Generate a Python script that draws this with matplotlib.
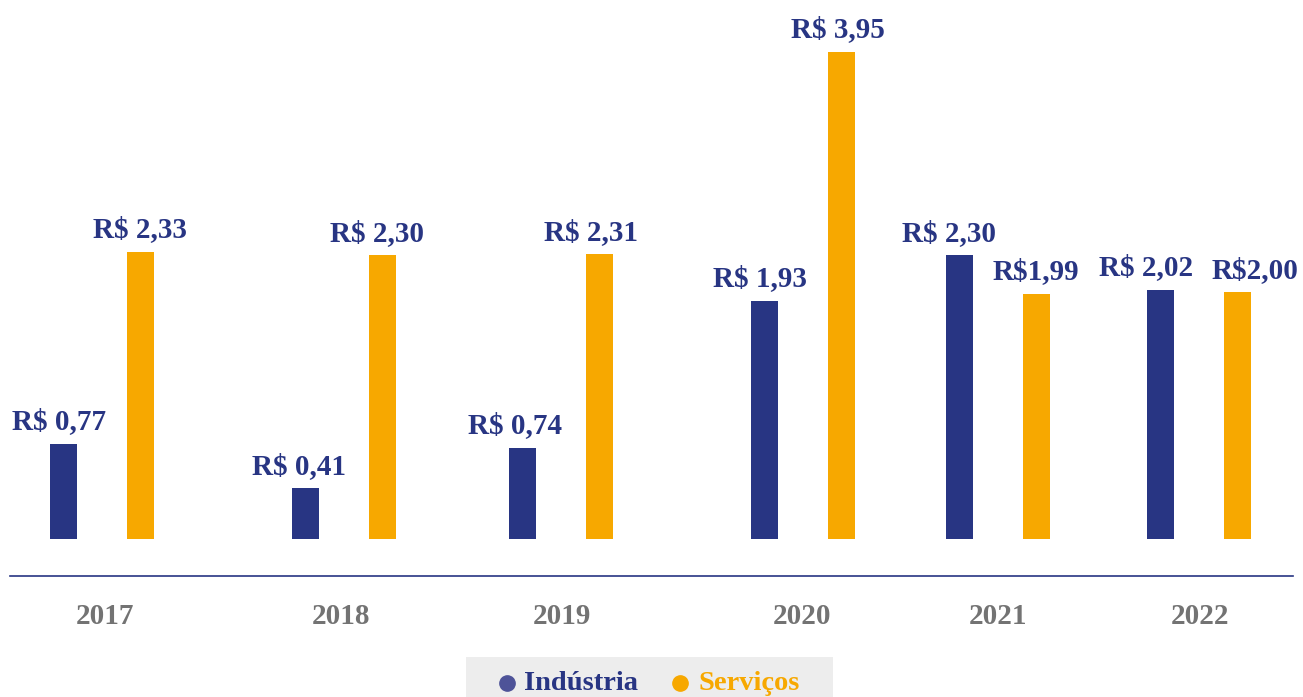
import matplotlib.pyplot as plt
from matplotlib.patches import Rectangle

anos = ['2017', '2018', '2019', '2020', '2021', '2022']
industria = [0.77, 0.41, 0.74, 1.93, 2.30, 2.02]
servicos = [2.33, 2.30, 2.31, 3.95, 1.99, 2.00]
rotulos_ind = ['R$ 0,77', 'R$ 0,41', 'R$ 0,74', 'R$ 1,93', 'R$ 2,30', 'R$ 2,02']
rotulos_serv = ['R$ 2,33', 'R$ 2,30', 'R$ 2,31', 'R$ 3,95', 'R$1,99', 'R$2,00']

# layout (pixel-like x units, groups are not evenly spaced in the original)
centros = [101.75, 343.75, 561, 802.75, 997.5, 1199]
centros_anos = [105, 341, 562, 802, 998, 1200]
meio = 38.5
largura = 27
dx_ind = [-4, -6, -8, -4, -10, -14]
dx_serv = [0, -5, -9, -3, 0, 18]

azul = '#283583'
laranja = '#F7A800'
cinza = '#737373'
fonte = 'Liberation Serif'

W, H = 1303, 697
fig = plt.figure(figsize=(W / 100, H / 100), dpi=100)
base = 158
ax = fig.add_axes([0, base / H, 1, (H - base) / H])
ax.set_xlim(0, W)
ax.set_ylim(0, (H - base) / 123.3)
ax.axis('off')

x_ind = [c - meio for c in centros]
x_serv = [c + meio for c in centros]
ax.bar(x_ind, industria, width=largura, color=azul)
ax.bar(x_serv, servicos, width=largura, color=laranja)

for x, v, t, d in zip(x_ind, industria, rotulos_ind, dx_ind):
    ax.annotate(t, (x, v), xytext=(d * 0.72, 10.5), textcoords='offset points',
                ha='center', va='baseline', color=azul, fontsize=21,
                fontweight='bold', family=fonte, annotation_clip=False)
for x, v, t, d in zip(x_serv, servicos, rotulos_serv, dx_serv):
    ax.annotate(t, (x, v), xytext=(d * 0.72, 10.5), textcoords='offset points',
                ha='center', va='baseline', color=azul, fontsize=21,
                fontweight='bold', family=fonte, annotation_clip=False)

# eixo
fig.add_artist(plt.Line2D([10 / W, 1293 / W], [(H - 576) / H, (H - 576) / H],
                          color=azul, lw=1.2))
for c, a in zip(centros_anos, anos):
    fig.text(c / W, (H - 617) / H, a, ha='center', va='center', color=cinza,
             fontsize=21, fontweight='bold', family=fonte)

# legenda
fig.add_artist(Rectangle((466 / W, 0), (833 - 466) / W, (H - 657) / H,
                         transform=fig.transFigure, color='#EDEDED', lw=0))
ly = (H - 683) / H
fig.add_artist(plt.Line2D([507 / W], [ly], marker='o', ms=11, color='#4E5398', lw=0))
fig.text(524 / W, ly, 'Indústria', ha='left', va='center', color=azul,
         fontsize=20.5, fontweight='bold', family=fonte)
fig.add_artist(plt.Line2D([680 / W], [ly], marker='o', ms=11, color=laranja, lw=0))
fig.text(699 / W, ly, 'Serviços', ha='left', va='center', color=laranja,
         fontsize=20.5, fontweight='bold', family=fonte)

fig.savefig('out.png', dpi=100, facecolor='white')
